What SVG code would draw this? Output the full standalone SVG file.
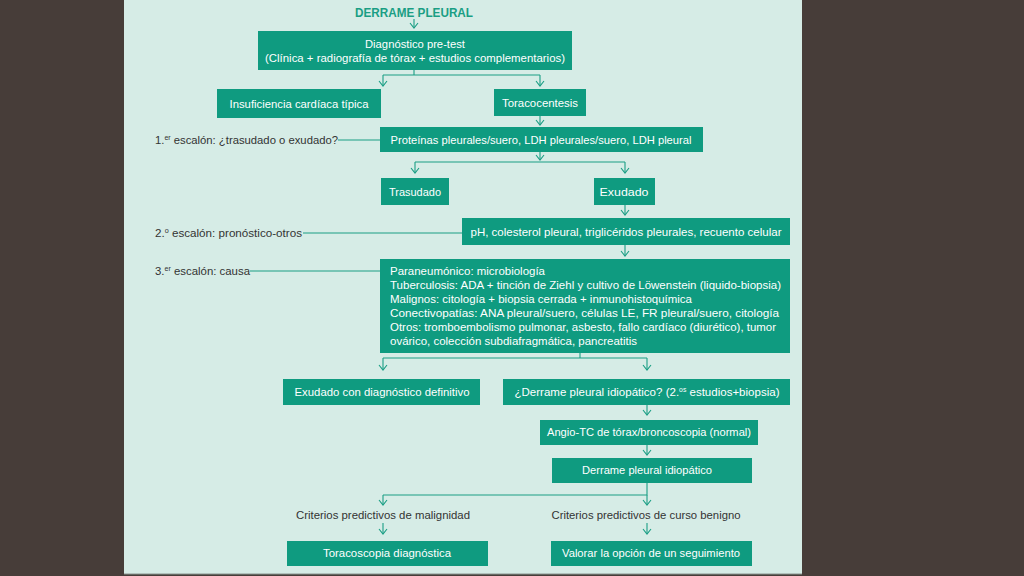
<svg xmlns="http://www.w3.org/2000/svg" width="1024" height="576" viewBox="0 0 1024 576">
<defs>
<marker id="ah" viewBox="0 0 10 10" refX="5" refY="9" markerWidth="10" markerHeight="10" markerUnits="userSpaceOnUse" orient="0">
<path d="M1,4 L5,9 L9,4" fill="none" stroke="#1a9e84" stroke-width="1.1"/>
</marker>
<style>
.box{fill:#0f9b80}
.bt{fill:#ffffff;font-family:"Liberation Sans",Arial,sans-serif;font-size:11px;text-anchor:middle}
.lt{fill:#ffffff;font-family:"Liberation Sans",Arial,sans-serif;font-size:10.5px}
.side{fill:#333333;font-family:"Liberation Sans",Arial,sans-serif;font-size:10.5px}
.crit{fill:#333333;font-family:"Liberation Sans",Arial,sans-serif;font-size:10.5px;text-anchor:middle}
.title{fill:#1a9e84;font-family:"Liberation Sans",Arial,sans-serif;font-size:12px;font-weight:bold;text-anchor:middle}
.c{fill:none;stroke:#1a9e84;stroke-width:1.1}
.a{fill:none;stroke:#1a9e84;stroke-width:1.1;marker-end:url(#ah)}
.sup{font-size:6.5px}
</style>
</defs>
<rect x="0" y="0" width="1024" height="576" fill="#473d39"/>
<rect x="124" y="0" width="678" height="574" fill="#d6ece6"/>
<line x1="124" y1="574" x2="802" y2="574" stroke="#8a9590" stroke-width="1"/>

<g id="connectors">
<line class="a" x1="414" y1="19" x2="414" y2="28"/>
<polyline class="c" points="414,70 414,75 383,75 540,75"/>
<line class="a" x1="383" y1="75" x2="383" y2="86"/>
<line class="a" x1="540" y1="75" x2="540" y2="86"/>
<line class="a" x1="540" y1="116" x2="540" y2="125"/>
<line class="c" x1="338" y1="140" x2="380" y2="140"/>
<line class="a" x1="540" y1="152" x2="540" y2="160"/>
<polyline class="c" points="415,162 625,162"/>
<line class="a" x1="415" y1="162" x2="415" y2="173"/>
<line class="a" x1="625" y1="162" x2="625" y2="173"/>
<line class="a" x1="625" y1="205" x2="625" y2="215"/>
<line class="c" x1="303" y1="233" x2="462" y2="233"/>
<line class="a" x1="625" y1="245" x2="625" y2="256"/>
<line class="c" x1="250" y1="271" x2="380" y2="271"/>
<polyline class="c" points="580,353 580,358 383,358 647,358"/>
<line class="a" x1="383" y1="358" x2="383" y2="370"/>
<line class="a" x1="647" y1="358" x2="647" y2="370"/>
<line class="a" x1="647" y1="405" x2="647" y2="415"/>
<line class="a" x1="647" y1="445" x2="647" y2="455"/>
<polyline class="c" points="647,483 647,495 383,495 647,495"/>
<line class="a" x1="383" y1="495" x2="383" y2="505"/>
<line class="a" x1="647" y1="495" x2="647" y2="505"/>
<line class="a" x1="383" y1="523" x2="383" y2="534"/>
<line class="a" x1="647" y1="523" x2="647" y2="534"/>
</g>

<g id="title"><text class="title" x="414" y="17" textLength="118" lengthAdjust="spacingAndGlyphs">DERRAME PLEURAL</text></g>

<g id="n-diag">
<rect class="box" x="258" y="31" width="314" height="39"/>
<text class="bt" x="415" y="48" textLength="100" lengthAdjust="spacingAndGlyphs">Diagnóstico pre-test</text>
<text class="bt" x="415" y="62" textLength="300" lengthAdjust="spacingAndGlyphs">(Clínica + radiografía de tórax + estudios complementarios)</text>
</g>
<g id="n-insuf">
<rect class="box" x="217" y="89" width="164" height="29"/>
<text class="bt" x="299" y="108" textLength="139" lengthAdjust="spacingAndGlyphs">Insuficiencia cardíaca típica</text>
</g>
<g id="n-tora">
<rect class="box" x="494" y="89" width="92" height="27"/>
<text class="bt" x="540" y="107" textLength="76" lengthAdjust="spacingAndGlyphs">Toracocentesis</text>
</g>
<g id="n-prot">
<rect class="box" x="380" y="127" width="323" height="25"/>
<text class="bt" x="541" y="144" textLength="301" lengthAdjust="spacingAndGlyphs">Proteínas pleurales/suero, LDH pleurales/suero, LDH pleural</text>
</g>
<g id="lbl1"><text class="side" x="155" y="144" textLength="183" lengthAdjust="spacingAndGlyphs">1.<tspan class="sup" dy="-4">er</tspan><tspan dy="4"> escalón: ¿trasudado o exudado?</tspan></text></g>
<g id="n-tras">
<rect class="box" x="381" y="178" width="68" height="27"/>
<text class="bt" x="415" y="196" textLength="52" lengthAdjust="spacingAndGlyphs">Trasudado</text>
</g>
<g id="n-exud">
<rect class="box" x="594" y="178" width="61" height="27"/>
<text class="bt" x="624" y="196" textLength="49" lengthAdjust="spacingAndGlyphs">Exudado</text>
</g>
<g id="n-ph">
<rect class="box" x="462" y="218" width="328" height="27"/>
<text class="bt" x="626" y="236" textLength="311" lengthAdjust="spacingAndGlyphs">pH, colesterol pleural, triglicéridos pleurales, recuento celular</text>
</g>
<g id="lbl2"><text class="side" x="155" y="237" textLength="147" lengthAdjust="spacingAndGlyphs">2.<tspan class="sup" dy="-4">o</tspan><tspan dy="4"> escalón: pronóstico-otros</tspan></text></g>
<g id="n-causa">
<rect class="box" x="380" y="259" width="410" height="94"/>
<text class="lt" x="390" y="275" textLength="155" lengthAdjust="spacingAndGlyphs">Paraneumónico: microbiología</text>
<text class="lt" x="390" y="289" textLength="391" lengthAdjust="spacingAndGlyphs">Tuberculosis: ADA + tinción de Ziehl y cultivo de Löwenstein (liquido-biopsia)</text>
<text class="lt" x="390" y="303" textLength="302" lengthAdjust="spacingAndGlyphs">Malignos: citología + biopsia cerrada + inmunohistoquímica</text>
<text class="lt" x="390" y="317" textLength="389" lengthAdjust="spacingAndGlyphs">Conectivopatías: ANA pleural/suero, células LE, FR pleural/suero, citología</text>
<text class="lt" x="390" y="331" textLength="386" lengthAdjust="spacingAndGlyphs">Otros: tromboembolismo pulmonar, asbesto, fallo cardíaco (diurético), tumor</text>
<text class="lt" x="390" y="345" textLength="247" lengthAdjust="spacingAndGlyphs">ovárico, colección subdiafragmática, pancreatitis</text>
</g>
<g id="lbl3"><text class="side" x="155" y="275" textLength="95" lengthAdjust="spacingAndGlyphs">3.<tspan class="sup" dy="-4">er</tspan><tspan dy="4"> escalón: causa</tspan></text></g>
<g id="n-def">
<rect class="box" x="283" y="379" width="197" height="26"/>
<text class="bt" x="382" y="396" textLength="175" lengthAdjust="spacingAndGlyphs">Exudado con diagnóstico definitivo</text>
</g>
<g id="n-idq">
<rect class="box" x="503" y="379" width="287" height="26"/>
<text class="bt" x="647" y="396" textLength="265" lengthAdjust="spacingAndGlyphs">¿Derrame pleural idiopático? (2.<tspan class="sup" dy="-4">os</tspan><tspan dy="4"> estudios+biopsia)</tspan></text>
</g>
<g id="n-angio">
<rect class="box" x="540" y="420" width="218" height="25"/>
<text class="bt" x="649" y="436" textLength="204" lengthAdjust="spacingAndGlyphs">Angio-TC de tórax/broncoscopia (normal)</text>
</g>
<g id="n-idio">
<rect class="box" x="552" y="458" width="200" height="25"/>
<text class="bt" x="647" y="474" textLength="130" lengthAdjust="spacingAndGlyphs">Derrame pleural idiopático</text>
</g>
<g id="t-mal"><text class="crit" x="383" y="519" textLength="174" lengthAdjust="spacingAndGlyphs">Criterios predictivos de malignidad</text></g>
<g id="t-ben"><text class="crit" x="646" y="519" textLength="189" lengthAdjust="spacingAndGlyphs">Criterios predictivos de curso benigno</text></g>
<g id="n-torac">
<rect class="box" x="287" y="541" width="201" height="25"/>
<text class="bt" x="387" y="557" textLength="128" lengthAdjust="spacingAndGlyphs">Toracoscopia diagnóstica</text>
</g>
<g id="n-valor">
<rect class="box" x="551" y="541" width="201" height="25"/>
<text class="bt" x="651" y="557" textLength="178" lengthAdjust="spacingAndGlyphs">Valorar la opción de un seguimiento</text>
</g>
</svg>
